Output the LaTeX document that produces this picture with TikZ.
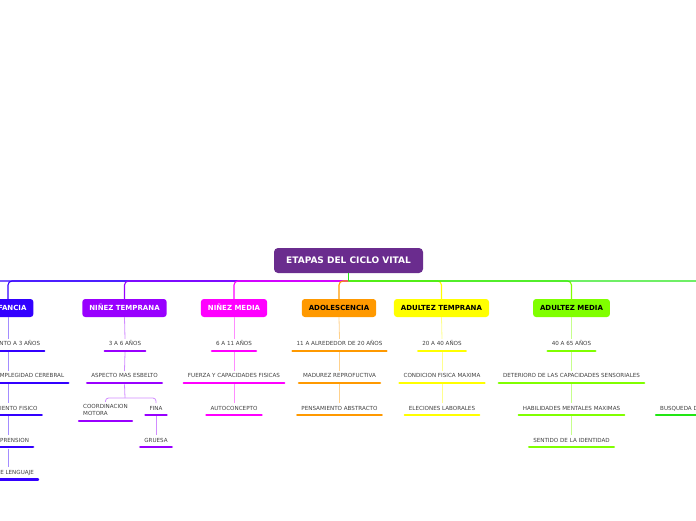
\documentclass[tikz,border=0pt]{standalone}
\usepackage{fontspec}
\setmainfont{DejaVu Sans}
\usetikzlibrary{positioning}
\definecolor{rootc}{RGB}{106,44,142}
\definecolor{infc}{RGB}{51,0,255}
\definecolor{temc}{RGB}{153,0,255}
\definecolor{medc}{RGB}{255,0,255}
\definecolor{adoc}{RGB}{255,153,0}
\definecolor{atec}{RGB}{255,255,0}
\definecolor{amec}{RGB}{128,255,0}
\definecolor{tarc}{RGB}{34,230,20}

\begin{document}
\begin{tikzpicture}[x=1pt, y=-1pt,
    rootbox/.style={fill=rootc, text=white, rounded corners=4pt,
      minimum width=149pt, minimum height=25pt,
      font=\bfseries\fontsize{9}{10}\selectfont},
    stage/.style={rounded corners=3pt, minimum height=18pt, inner xsep=7pt,
      text height=5.2pt, text depth=0pt,
      font=\bfseries\fontsize{7}{8}\selectfont},
    leaf/.style={font=\fontsize{5.6}{6.5}\selectfont, text=black!75,
      inner xsep=4pt, inner ysep=2.5pt, text height=4.2pt, text depth=2.5pt,
      anchor=south,
      append after command={(\tikzlastnode.south west) edge[draw=#1,
        line width=2.3pt, line cap=round] (\tikzlastnode.south east)}},
    link/.style={line width=1.1pt, rounded corners=4pt},
    sub/.style={line width=0.8pt}]
  \useasboundingbox (0,0) rectangle (696,520);
  \node[rootbox] (root) at (348.5,260.5) {ETAPAS DEL CICLO VITAL};
  \coordinate (hub) at (348.5,281);
  \coordinate (offl) at (-60,299);
  \coordinate (offr) at (760,299);
  % stages
  \node[stage, fill=infc, text=white] (inf) at (8,308) {INFANCIA};
  \node[stage, fill=temc, text=white] (tem) at (124.5,308) {NIÑEZ TEMPRANA};
  \node[stage, fill=medc, text=white] (med) at (234,308) {NIÑEZ MEDIA};
  \node[stage, fill=adoc] (ado) at (339,308) {ADOLESCENCIA};
  \node[stage, fill=atec] (ate) at (441.5,308) {ADULTEZ TEMPRANA};
  \node[stage, fill=amec] (ame) at (571.5,308) {ADULTEZ MEDIA};
  % trunk
  \draw[link, infc] (hub) -| (offl);
  \draw[link, infc] (hub) -| (inf.north);
  \draw[link, temc] (hub) -| (tem.north);
  \draw[link, medc] (hub) -| (med.north);
  \draw[link, adoc] (hub) -| (ado.north);
  \draw[link, atec] (hub) -| (ate.north);
  \draw[link, amec] (hub) -| (ame.north);
  \draw[link, tarc] (hub) -| (offr);
  \draw[link, tarc] (root.south) -- (hub);
  % leaves
  \foreach \t [count=\i] in {NACIMIENTO A 3 AÑOS, AUMENTO DE COMPLEGIDAD CEREBRAL,
      CRECIMIENTO FISICO, COMPRENSION, USO DE LENGUAJE}
    \node[leaf=infc] (inf\i) at (8,{351+32.1*(\i-1)}) {\t};
  \node[leaf=temc] (tem1) at (125,351) {3 A 6 AÑOS};
  \node[leaf=temc] (tem2) at (124.5,383.1) {ASPECTO MAS ESBELTO};
  \node[leaf=temc, align=left, text height=10.7pt, text depth=3pt] (tem3) at (105.5,421) {COORDINACION\\MOTORA};
  \node[leaf=temc] (tem4) at (156,415.2) {FINA};
  \node[leaf=temc] (tem5) at (156,447.3) {GRUESA};
  \foreach \t [count=\i] in {6 A 11 AÑOS, FUERZA Y CAPACIDADES FISICAS, AUTOCONCEPTO}
    \node[leaf=medc] (med\i) at (234,{351+32.1*(\i-1)}) {\t};
  \foreach \t [count=\i] in {11 A ALREDEDOR DE 20 AÑOS, MADUREZ REPROFUCTIVA, PENSAMIENTO ABSTRACTO}
    \node[leaf=adoc] (ado\i) at (339.5,{351+32.1*(\i-1)}) {\t};
  \foreach \t [count=\i] in {20 A 40 AÑOS, CONDICION FISICA MAXIMA, ELECIONES LABORALES}
    \node[leaf=atec] (ate\i) at (442,{351+32.1*(\i-1)}) {\t};
  \foreach \t [count=\i] in {40 A 65 AÑOS, DETERIORO DE LAS CAPACIDADES SENSORIALES,
      HABILIDADES MENTALES MAXIMAS, SENTIDO DE LA IDENTIDAD}
    \node[leaf=amec] (ame\i) at (571.5,{351+32.1*(\i-1)}) {\t};
  \node[leaf=tarc, anchor=south west] (tar3) at (656,415.2) {BUSQUEDA DE SENTIDO};
  % sub links
  \foreach \s/\c in {inf/infc, tem/temc, med/medc, ado/adoc, ate/atec, ame/amec}
    \draw[sub, \c!45] (\s.south) -- (\s1.north);
  \foreach \s/\c/\i/\j in {inf/infc/1/2, inf/infc/2/3, inf/infc/3/4, inf/infc/4/5,
      tem/temc/1/2, tem/temc/4/5, med/medc/1/2, med/medc/2/3, ado/adoc/1/2,
      ado/adoc/2/3, ate/atec/1/2, ate/atec/2/3, ame/amec/1/2, ame/amec/2/3, ame/amec/3/4}
    \draw[sub, \c!45] ([yshift=-1.2pt]\s\i.south) -- (\s\j.north);
  \coordinate (fork) at (125,398);
  \draw[sub, temc!45] ([yshift=-1.2pt]tem2.south) -- (fork);
  \draw[sub, temc!45, rounded corners=3pt] (tem3.north) |- (fork) -| (tem4.north);
\end{tikzpicture}
\end{document}
